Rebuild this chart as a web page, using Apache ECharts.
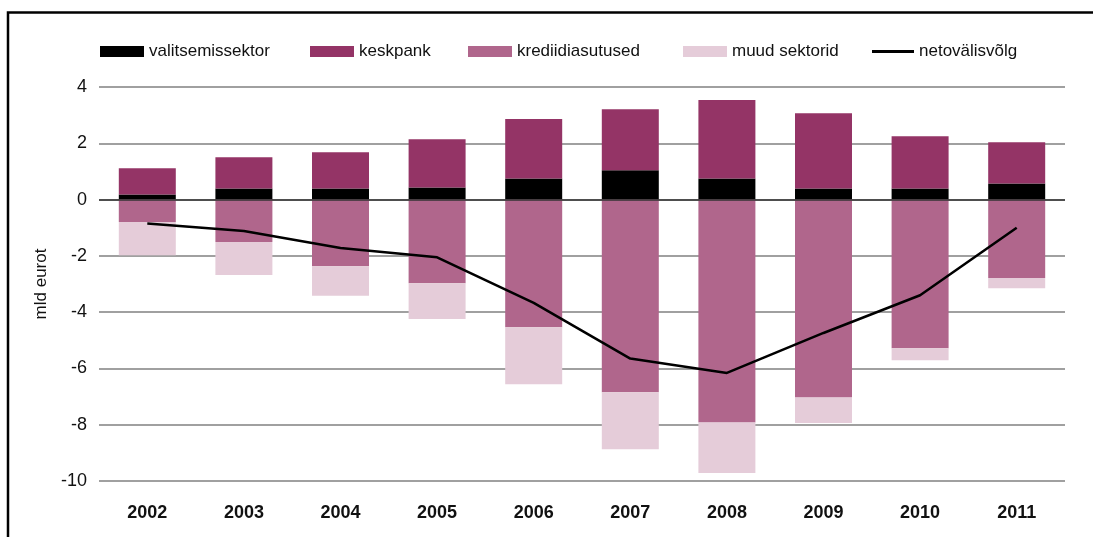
<!DOCTYPE html>
<html>
<head>
<meta charset="utf-8">
<script src="https://cdn.jsdelivr.net/npm/echarts@6/dist/echarts.min.js"></script>
<style>
  html, body { margin: 0; padding: 0; background: #fff; }
  #chart { width: 1093px; height: 537px; }
</style>
</head>
<body>
<div id="chart"></div>
<script>
  // mld eurot
  const years = ['2002', '2003', '2004', '2005', '2006', '2007', '2008', '2009', '2010', '2011'];
  const valitsemissektor = [0.18, 0.39, 0.39, 0.43, 0.75, 1.04, 0.75, 0.39, 0.39, 0.57];
  const keskpank = [0.93, 1.11, 1.29, 1.71, 2.11, 2.17, 2.79, 2.68, 1.86, 1.47];
  const krediidiasutused = [-0.80, -1.51, -2.37, -2.97, -4.54, -6.85, -7.92, -7.03, -5.28, -2.79];
  const muudSektorid = [-1.18, -1.17, -1.05, -1.27, -2.02, -2.02, -1.80, -0.91, -0.43, -0.36];
  const netovalisvolg = [-0.85, -1.12, -1.72, -2.05, -3.67, -5.65, -6.16, -4.74, -3.40, -1.00];

  const font = 'Liberation Sans, Arial, Helvetica, sans-serif';
  const chart = echarts.init(document.getElementById('chart'));

  // one legend per item so the spacing follows the original
  const legendItem = (name, left) => ({
    data: [name],
    top: 43,
    left: left,
    icon: 'rect',
    itemWidth: 44,
    itemHeight: 11,
    itemGap: 0,
    padding: 0,
    selectedMode: false,
    textStyle: { fontFamily: font, fontSize: 17, color: '#111' },
  });

  const barSeries = (name, data, color) => ({
    name: name,
    type: 'bar',
    stack: 'total',
    barWidth: '59%',
    data: data,
    itemStyle: { color: color },
    animation: false,
  });

  chart.setOption({
    animation: false,
    textStyle: { fontFamily: font },
    graphic: [
      {
        type: 'polyline',
        shape: { points: [[8, 537], [8, 12.5], [1093, 12.5]] },
        style: { stroke: '#000', lineWidth: 2.5, fill: null },
        silent: true,
      },
    ],
    legend: [
      legendItem('valitsemissektor', 100),
      legendItem('keskpank', 310),
      legendItem('krediidiasutused', 468),
      legendItem('muud sektorid', 683),
      Object.assign(legendItem('netovälisvõlg', 872), { itemWidth: 42, itemHeight: 3 }),
    ],
    grid: {
      left: 99,
      right: 28,
      top: 87,
      bottom: 56,
    },
    xAxis: {
      type: 'category',
      data: years,
      axisLine: { show: false },
      axisTick: { show: false },
      axisLabel: {
        fontSize: 18,
        fontWeight: 'bold',
        color: '#111',
        margin: 23,
      },
    },
    yAxis: {
      type: 'value',
      min: -10,
      max: 4,
      interval: 2,
      name: 'mld eurot',
      nameLocation: 'middle',
      nameGap: 42,
      nameRotate: 90,
      nameTextStyle: { fontSize: 17, color: '#111' },
      axisLine: { show: false },
      axisTick: { show: false },
      axisLabel: { fontSize: 18, color: '#111', margin: 12 },
      splitLine: { lineStyle: { color: '#808080', width: 1.5 } },
    },
    series: [
      barSeries('valitsemissektor', valitsemissektor, '#000000'),
      barSeries('keskpank', keskpank, '#943466'),
      barSeries('krediidiasutused', krediidiasutused, '#b0668c'),
      barSeries('muud sektorid', muudSektorid, '#e5ccd9'),
      {
        name: 'netovälisvõlg',
        type: 'line',
        data: netovalisvolg,
        symbol: 'none',
        z: 5,
        lineStyle: { color: '#000', width: 2.5 },
        itemStyle: { color: '#000' },
        markLine: {
          silent: true,
          symbol: 'none',
          label: { show: false },
          lineStyle: { color: '#333', width: 1.5, type: 'solid' },
          data: [{ yAxis: 0 }],
          z: 3,
        },
      },
    ],
  });
</script>
</body>
</html>
